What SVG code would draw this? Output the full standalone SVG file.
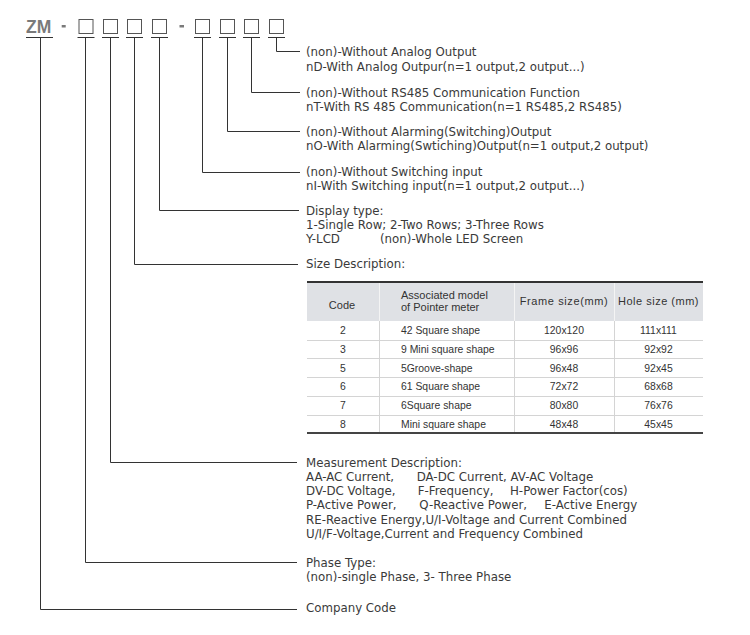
<svg xmlns="http://www.w3.org/2000/svg" width="750" height="635" viewBox="0 0 750 635">
<style>
.t{font-family:"DejaVu Sans","Liberation Sans",sans-serif;font-size:11.8px;fill:#3a3a3a}
.box{fill:#fff;stroke:#555;stroke-width:1}
.ul{stroke:#333;stroke-width:1}
.c{fill:none;stroke:#333;stroke-width:1}
.dash{fill:#7a7a7a}
.th{font-family:"Liberation Sans",Arial,sans-serif;font-size:11px;fill:#333}
.td{font-family:"Liberation Sans",Arial,sans-serif;font-size:10.4px;fill:#333}
.m{text-anchor:middle}
.sep{stroke:#d4d4d4;stroke-width:1}
.hsep{stroke:#f4f4f4;stroke-width:1}
</style>
<rect width="750" height="635" fill="#fff"/>

<g id="model-code">
  <text x="26" y="33.3" font-family="Liberation Sans, Arial, sans-serif" font-weight="bold" font-size="17.5" fill="#7a7a7a">ZM</text>
  <line class="ul" x1="26" y1="37.5" x2="53" y2="37.5"/>
  <rect class="dash" x="61.7" y="25" width="4" height="2.5"/>
  <rect class="dash" x="179.5" y="25" width="4.5" height="2.5"/>
</g>
<g id="box1"><rect class="box" x="79" y="19.5" width="14" height="14"/><line class="ul" x1="77.5" y1="37.5" x2="94.5" y2="37.5"/></g>
<g id="box2"><rect class="box" x="103.5" y="19.5" width="14" height="14"/><line class="ul" x1="102" y1="37.5" x2="119" y2="37.5"/></g>
<g id="box3"><rect class="box" x="127.5" y="19.5" width="14" height="14"/><line class="ul" x1="126" y1="37.5" x2="143" y2="37.5"/></g>
<g id="box4"><rect class="box" x="152.5" y="19.5" width="14" height="14"/><line class="ul" x1="151" y1="37.5" x2="168" y2="37.5"/></g>
<g id="box5"><rect class="box" x="195.5" y="19.5" width="14" height="14"/><line class="ul" x1="194" y1="37.5" x2="211" y2="37.5"/></g>
<g id="box6"><rect class="box" x="220.5" y="19.5" width="14" height="14"/><line class="ul" x1="219" y1="37.5" x2="236" y2="37.5"/></g>
<g id="box7"><rect class="box" x="244.5" y="19.5" width="14" height="14"/><line class="ul" x1="243" y1="37.5" x2="260" y2="37.5"/></g>
<g id="box8"><rect class="box" x="269.5" y="19.5" width="14" height="14"/><line class="ul" x1="268" y1="37.5" x2="285" y2="37.5"/></g>

<g id="connectors">
  <path class="c" d="M276.5 37.5 V51.5 H300"/>
  <path class="c" d="M251.5 37.5 V92.5 H300"/>
  <path class="c" d="M227.5 37.5 V131.5 H300"/>
  <path class="c" d="M202.5 37.5 V172.5 H300"/>
  <path class="c" d="M159.5 37.5 V210.5 H299"/>
  <path class="c" d="M134.5 37.5 V264.5 H298"/>
  <path class="c" d="M110.5 37.5 V462.5 H297"/>
  <path class="c" d="M85.5 37.5 V562.5 H297"/>
  <path class="c" d="M40.5 37.5 V609.5 H297"/>
</g>

<g id="analog-output">
  <text class="t" x="306" y="56">(non)-Without Analog Output</text>
  <text class="t" x="306" y="70.5">nD-With Analog Outpur(n=1 output,2 output...)</text>
</g>
<g id="rs485">
  <text class="t" x="306" y="96.5">(non)-Without RS485 Communication Function</text>
  <text class="t" x="306" y="110.5">nT-With RS 485 Communication(n=1 RS485,2 RS485)</text>
</g>
<g id="alarming">
  <text class="t" x="306" y="135.5">(non)-Without Alarming(Switching)Output</text>
  <text class="t" x="306" y="149.5">nO-With Alarming(Swtiching)Output(n=1 output,2 output)</text>
</g>
<g id="switching-input">
  <text class="t" x="306" y="176">(non)-Without Switching input</text>
  <text class="t" x="306" y="190">nI-With Switching input(n=1 output,2 output...)</text>
</g>
<g id="display-type">
  <text class="t" x="306" y="215">Display type:</text>
  <text class="t" x="306" y="229">1-Single Row; 2-Two Rows; 3-Three Rows</text>
  <text class="t" x="306" y="243">Y-LCD<tspan x="380">(non)-Whole LED Screen</tspan></text>
</g>
<g id="size-description">
  <text class="t" x="306" y="268">Size Description:</text>
</g>

<g id="size-table">
  <rect x="307" y="283" width="396" height="38" fill="#dfe1e5"/>
  <line x1="307" y1="282" x2="703" y2="282" stroke="#333" stroke-width="2"/>
  <line class="hsep" x1="379.5" y1="283" x2="379.5" y2="321"/>
  <line class="hsep" x1="514.5" y1="283" x2="514.5" y2="321"/>
  <line class="hsep" x1="614.5" y1="283" x2="614.5" y2="321"/>
  <line class="sep" x1="379.5" y1="321" x2="379.5" y2="432"/>
  <line class="sep" x1="514.5" y1="321" x2="514.5" y2="432"/>
  <line class="sep" x1="614.5" y1="321" x2="614.5" y2="432"/>
  <line class="sep" x1="307" y1="340.5" x2="703" y2="340.5"/>
  <line class="sep" x1="307" y1="358.5" x2="703" y2="358.5"/>
  <line class="sep" x1="307" y1="377.5" x2="703" y2="377.5"/>
  <line class="sep" x1="307" y1="396.5" x2="703" y2="396.5"/>
  <line class="sep" x1="307" y1="415.5" x2="703" y2="415.5"/>
  <line x1="307" y1="433" x2="703" y2="433" stroke="#444" stroke-width="2"/>

  <text class="th m" x="342" y="309">Code</text>
  <text class="th" x="401" y="299" font-size="10.6">Associated model</text>
  <text class="th" x="401" y="310.5" font-size="10.6">of Pointer meter</text>
  <text class="th m" x="564" y="304.5" letter-spacing="0.6">Frame size(mm)</text>
  <text class="th m" x="658.5" y="304.5" letter-spacing="0.5">Hole size (mm)</text>

  <text class="td m" x="343" y="334">2</text>
  <text class="td" x="401" y="334">42 Square shape</text>
  <text class="td m" x="564" y="334">120x120</text>
  <text class="td m" x="658.5" y="334">111x111</text>

  <text class="td m" x="343" y="353">3</text>
  <text class="td" x="401" y="353">9 Mini square shape</text>
  <text class="td m" x="564" y="353">96x96</text>
  <text class="td m" x="658.5" y="353">92x92</text>

  <text class="td m" x="343" y="371.5">5</text>
  <text class="td" x="401" y="371.5">5Groove-shape</text>
  <text class="td m" x="564" y="371.5">96x48</text>
  <text class="td m" x="658.5" y="371.5">92x45</text>

  <text class="td m" x="343" y="390">6</text>
  <text class="td" x="401" y="390">61 Square shape</text>
  <text class="td m" x="564" y="390">72x72</text>
  <text class="td m" x="658.5" y="390">68x68</text>

  <text class="td m" x="343" y="409">7</text>
  <text class="td" x="401" y="409">6Square shape</text>
  <text class="td m" x="564" y="409">80x80</text>
  <text class="td m" x="658.5" y="409">76x76</text>

  <text class="td m" x="343" y="428">8</text>
  <text class="td" x="401" y="428">Mini square shape</text>
  <text class="td m" x="564" y="428">48x48</text>
  <text class="td m" x="658.5" y="428">45x45</text>
</g>

<g id="measurement">
  <text class="t" x="306" y="466.5">Measurement Description:</text>
  <text class="t" x="306" y="480.8">AA-AC Current,<tspan x="416.7">DA-DC Current, AV-AC Voltage</tspan></text>
  <text class="t" x="306" y="495.1">DV-DC Voltage,<tspan x="417.7">F-Frequency,</tspan><tspan x="510">H-Power Factor(cos)</tspan></text>
  <text class="t" x="306" y="509.4">P-Active Power,<tspan x="419.3">Q-Reactive Power,</tspan><tspan x="544.3">E-Active Energy</tspan></text>
  <text class="t" x="306" y="523.7">RE-Reactive Energy,U/I-Voltage and Current Combined</text>
  <text class="t" x="306" y="538">U/I/F-Voltage,Current and Frequency Combined</text>
</g>
<g id="phase-type">
  <text class="t" x="306" y="566.5">Phase Type:</text>
  <text class="t" x="306" y="581">(non)-single Phase, 3- Three Phase</text>
</g>
<g id="company-code">
  <text class="t" x="306" y="612">Company Code</text>
</g>
</svg>
